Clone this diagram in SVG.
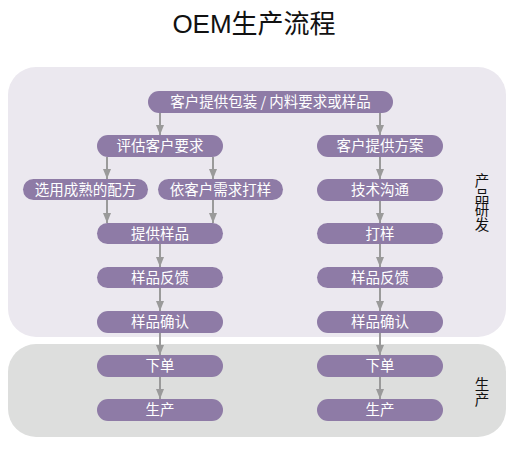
<svg xmlns="http://www.w3.org/2000/svg" width="530" height="452" viewBox="0 0 530 452">
<style>
.node rect{fill:#8e7ba6;}
.node text{fill:#ffffff;font-family:"Noto Sans CJK SC","Liberation Sans",sans-serif;font-size:14.5px;text-anchor:middle;}
.lbl{fill:#111;font-family:"Noto Sans CJK SC","Liberation Sans",sans-serif;font-size:14.5px;writing-mode:vertical-rl;text-anchor:start;letter-spacing:0.3px;}
.conn line{stroke:#9a9a9a;stroke-width:2;}
</style>
<defs>
<marker id="ah" markerWidth="10" markerHeight="8" refX="10" refY="4" orient="auto" markerUnits="userSpaceOnUse">
<path d="M0,0 L10,4 L0,8 Z" fill="#9a9a9a"/>
</marker>
</defs>
<rect width="530" height="452" fill="#ffffff"/>
<text x="254" y="33" font-family="'Liberation Sans','Noto Sans CJK SC',sans-serif" font-size="26" text-anchor="middle" fill="#111">OEM生产流程</text>
<g id="panel-rd"><rect x="8" y="67" width="498" height="270" rx="28" fill="#ebe8ef"/>
<text class="lbl" x="482" y="173">产品研发</text></g>
<g id="panel-prod"><rect x="8" y="344" width="498" height="93" rx="28" fill="#dddedd"/>
<text class="lbl" x="482" y="377">生产</text></g>
<g id="connectors" class="conn">
<line x1="160" y1="113" x2="160" y2="135" marker-end="url(#ah)"/>
<line x1="380" y1="113" x2="380" y2="135" marker-end="url(#ah)"/>
<line x1="107" y1="157" x2="107" y2="179" marker-end="url(#ah)"/>
<line x1="213" y1="157" x2="213" y2="179" marker-end="url(#ah)"/>
<line x1="380" y1="157" x2="380" y2="179" marker-end="url(#ah)"/>
<line x1="107" y1="200" x2="107" y2="223" marker-end="url(#ah)"/>
<line x1="213" y1="200" x2="213" y2="223" marker-end="url(#ah)"/>
<line x1="380" y1="201" x2="380" y2="223" marker-end="url(#ah)"/>
<line x1="160" y1="244" x2="160" y2="267" marker-end="url(#ah)"/>
<line x1="380" y1="244" x2="380" y2="267" marker-end="url(#ah)"/>
<line x1="160" y1="288" x2="160" y2="311" marker-end="url(#ah)"/>
<line x1="380" y1="288" x2="380" y2="311" marker-end="url(#ah)"/>
<line x1="160" y1="333" x2="160" y2="355" marker-end="url(#ah)"/>
<line x1="380" y1="333" x2="380" y2="355" marker-end="url(#ah)"/>
<line x1="160" y1="377" x2="160" y2="399" marker-end="url(#ah)"/>
<line x1="380" y1="377" x2="380" y2="399" marker-end="url(#ah)"/>
</g>
<g id="n-start" class="node"><rect x="148" y="91" width="245" height="22" rx="11"/><text x="270.5" y="107">客户提供包装 / 内料要求或样品</text></g>
<g id="n-eval" class="node"><rect x="97" y="135" width="126" height="22" rx="11"/><text x="160" y="151">评估客户要求</text></g>
<g id="n-plan" class="node"><rect x="317" y="135" width="126" height="22" rx="11"/><text x="380" y="151">客户提供方案</text></g>
<g id="n-mature" class="node"><rect x="23" y="179" width="125" height="21" rx="10.5"/><text x="85.5" y="195">选用成熟的配方</text></g>
<g id="n-custom" class="node"><rect x="158" y="179" width="125" height="21" rx="10.5"/><text x="220.5" y="195">依客户需求打样</text></g>
<g id="n-tech" class="node"><rect x="317" y="179" width="126" height="22" rx="11"/><text x="380" y="195">技术沟通</text></g>
<g id="n-sample" class="node"><rect x="97" y="223" width="126" height="21" rx="10.5"/><text x="160" y="239">提供样品</text></g>
<g id="n-proof" class="node"><rect x="317" y="223" width="126" height="21" rx="10.5"/><text x="380" y="239">打样</text></g>
<g id="n-fb-l" class="node"><rect x="97" y="267" width="126" height="21" rx="10.5"/><text x="160" y="283">样品反馈</text></g>
<g id="n-fb-r" class="node"><rect x="317" y="267" width="126" height="21" rx="10.5"/><text x="380" y="283">样品反馈</text></g>
<g id="n-ok-l" class="node"><rect x="97" y="311" width="126" height="22" rx="11"/><text x="160" y="327">样品确认</text></g>
<g id="n-ok-r" class="node"><rect x="317" y="311" width="126" height="22" rx="11"/><text x="380" y="327">样品确认</text></g>
<g id="n-order-l" class="node"><rect x="97" y="355" width="126" height="22" rx="11"/><text x="160" y="371">下单</text></g>
<g id="n-order-r" class="node"><rect x="317" y="355" width="126" height="22" rx="11"/><text x="380" y="371">下单</text></g>
<g id="n-prod-l" class="node"><rect x="97" y="399" width="126" height="22" rx="11"/><text x="160" y="415">生产</text></g>
<g id="n-prod-r" class="node"><rect x="317" y="399" width="126" height="22" rx="11"/><text x="380" y="415">生产</text></g>
</svg>
